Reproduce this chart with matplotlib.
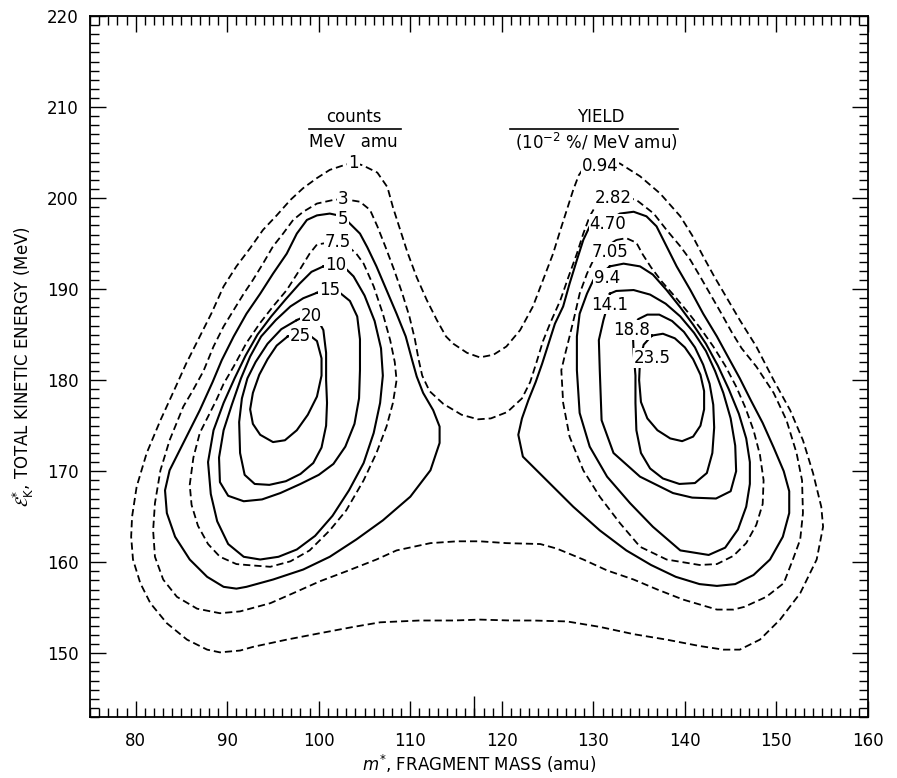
import numpy as np
import matplotlib.pyplot as plt
from matplotlib.ticker import MultipleLocator

# contour traces as (m*, E*) pairs, amu / MeV
# left peak: counts / (MeV amu); right peak: yield (1e-2 % / MeV amu)
c_outer = [(103.8, 203.9), (102.7, 203.6), (101.2, 203.1), (99.8, 202.2), (98.3, 201.1), (96.9, 199.8),
           (95.4, 198.1), (93.9, 196.5), (92.5, 194.5), (91.0, 192.5), (89.6, 190.3), (88.3, 187.4),
           (86.9, 184.6), (85.5, 181.8), (84.2, 178.9), (82.7, 175.6), (81.2, 172.0), (80.1, 168.3),
           (79.6, 165.0), (79.5, 162.8), (79.7, 160.3), (80.5, 157.7), (81.6, 155.5), (83.4, 153.3),
           (85.6, 151.5), (87.8, 150.4), (89.2, 150.1), (91.4, 150.3), (92.8, 150.7), (96.5, 151.5),
           (100.1, 152.2), (103.8, 152.9), (106.7, 153.4), (111.0, 153.6), (114.7, 153.6), (117.6, 153.7),
           (121.0, 153.6), (123.4, 153.6), (127.1, 153.5), (130.7, 152.9), (134.4, 152.1), (138.0, 151.5),
           (141.6, 150.8), (144.2, 150.4), (146.0, 150.4), (148.2, 151.5), (150.4, 153.7), (152.6, 156.6),
           (154.4, 160.3), (155.1, 163.9), (154.9, 166.1), (154.0, 169.8), (152.9, 173.4), (151.5, 176.7),
           (149.7, 180.0), (147.8, 183.7), (146.0, 186.6), (144.6, 189.0), (143.2, 191.4), (142.0, 193.6),
           (140.8, 195.9), (139.5, 198.0), (137.3, 200.5), (135.1, 202.4), (132.9, 203.8), (130.7, 204.1),
           (129.2, 203.7), (128.4, 202.5), (127.8, 200.9), (127.1, 198.7), (126.4, 196.5), (125.6, 193.9),
           (124.5, 191.0), (123.4, 188.1), (122.0, 185.5), (120.5, 183.7), (119.1, 182.8), (117.6, 182.5),
           (116.2, 183.0), (114.7, 184.0), (113.9, 184.8), (112.9, 186.6), (111.8, 188.8), (110.7, 191.3),
           (109.7, 194.0), (108.9, 196.5), (108.1, 199.0), (107.5, 201.2), (106.4, 202.8), (104.8, 203.6),
           (103.8, 203.9)]

c_3 = [(102.7, 199.9), (101.6, 199.8), (99.8, 199.4), (98.3, 198.5), (97.2, 197.6), (96.1, 196.1),
       (95.0, 194.7), (93.9, 192.8), (92.8, 191.0), (91.8, 189.5), (90.7, 187.7), (89.6, 185.9),
       (88.5, 183.7), (87.4, 181.0), (86.2, 178.8), (85.2, 177.1), (83.7, 173.4), (82.7, 170.1),
       (82.1, 166.5), (81.9, 163.5), (82.1, 160.6), (83.0, 158.1), (84.5, 156.2), (86.7, 154.9),
       (89.2, 154.4), (91.4, 154.6), (94.7, 155.5), (97.2, 156.6), (100.1, 157.9), (103.0, 159.0),
       (106.3, 160.3), (108.5, 161.3), (112.2, 162.1), (115.1, 162.3), (117.6, 162.3), (120.5, 162.1),
       (124.2, 162.0), (126.0, 161.5), (128.9, 160.3), (131.5, 159.1), (134.4, 158.1), (137.0, 157.0),
       (139.8, 155.9), (143.5, 154.8), (145.3, 154.8), (146.5, 155.1), (148.9, 156.2), (150.8, 157.7),
       (151.8, 160.3), (152.6, 162.5), (152.9, 165.4), (152.8, 169.0), (152.2, 172.0), (151.1, 175.6),
       (149.7, 178.6), (147.8, 181.5), (146.2, 183.5), (145.1, 185.3), (144.0, 187.3), (142.8, 189.4),
       (141.6, 191.5), (140.6, 193.2), (139.5, 194.7), (138.0, 196.5), (136.6, 198.3), (134.7, 199.8),
       (133.4, 200.1), (132.2, 200.0), (130.4, 199.4), (129.6, 198.0), (128.9, 196.1), (128.2, 193.9),
       (127.3, 191.4), (126.4, 188.8), (125.3, 186.3), (124.5, 184.3), (123.8, 182.0), (123.1, 179.8),
       (122.2, 178.0), (120.6, 176.5), (118.8, 175.8), (117.4, 175.7), (115.6, 176.2), (113.6, 177.4),
       (112.1, 178.8), (111.3, 180.5), (110.9, 182.3), (110.5, 184.5), (109.9, 187.0), (109.1, 189.6),
       (108.2, 192.2), (107.3, 194.6), (106.4, 196.9), (105.6, 198.7), (104.5, 199.6), (102.7, 199.9)]

c_5 = [(102.6, 198.0), (101.2, 198.3), (99.8, 198.1), (98.7, 197.6), (97.6, 196.1), (96.5, 193.9),
       (95.0, 191.7), (93.6, 189.5), (92.1, 187.3), (90.7, 184.8), (89.4, 182.2), (88.4, 179.8),
       (87.0, 176.7), (85.2, 173.1), (83.7, 170.1), (83.2, 167.9), (83.4, 165.4), (84.3, 162.8),
       (85.9, 160.3), (87.8, 158.4), (89.6, 157.3), (91.0, 157.1), (92.1, 157.3), (95.0, 158.1),
       (98.3, 159.2), (101.2, 160.6), (104.1, 162.5), (107.0, 164.6), (110.0, 167.2), (112.2, 170.1),
       (113.2, 173.1), (113.2, 174.9), (112.5, 176.7), (111.4, 178.6), (110.7, 180.4), (110.2, 182.2),
       (109.5, 184.8), (108.5, 187.3), (107.4, 189.9), (106.3, 192.5), (105.3, 194.6), (104.5, 196.1),
       (103.4, 197.2), (102.6, 198.0)]

c_7p5 = [(101.0, 195.1), (99.8, 194.9), (99.0, 193.9), (97.9, 192.1), (96.5, 189.9), (95.0, 188.1),
         (93.6, 186.3), (92.1, 184.1), (90.7, 181.5), (89.6, 179.6), (88.8, 177.8), (87.7, 175.6),
         (87.0, 174.2), (86.3, 171.5), (85.9, 168.5), (86.1, 166.3), (86.8, 164.0), (87.9, 162.0),
         (89.2, 160.6), (91.0, 159.8), (92.1, 159.7), (94.7, 159.5), (96.9, 160.1), (99.0, 161.3),
         (101.2, 163.5), (103.0, 165.7), (104.9, 169.0), (106.3, 172.0), (107.4, 174.9), (108.1, 177.5),
         (108.5, 180.0), (108.3, 182.0), (107.8, 184.4), (107.0, 187.3), (106.0, 190.3), (104.9, 192.8),
         (104.1, 193.9), (103.3, 194.6), (101.0, 195.1)]

c_10 = [(100.5, 192.5), (99.2, 191.9), (97.9, 190.6), (96.4, 188.9), (94.8, 187.0), (93.3, 185.0),
        (92.0, 182.7), (90.8, 180.2), (89.6, 177.5), (88.5, 174.5), (87.9, 171.0), (88.2, 167.5),
        (88.9, 164.5), (90.1, 162.0), (91.8, 160.6), (93.6, 160.3), (95.6, 160.6), (97.6, 161.4),
        (99.6, 162.9), (101.5, 165.1), (103.3, 167.9), (104.9, 170.9), (106.0, 174.2), (106.7, 177.5),
        (107.0, 180.5), (106.8, 183.5), (106.1, 186.5), (105.0, 189.3), (103.8, 191.4), (102.9, 192.3),
        (101.8, 192.7), (100.5, 192.5)]

c_15 = [(99.8, 189.6), (98.3, 189.0), (96.9, 188.1), (95.3, 186.6), (93.7, 184.8), (92.5, 182.6),
        (91.5, 180.2), (90.5, 177.3), (89.6, 174.5), (89.1, 171.5), (89.2, 168.8), (90.1, 167.3),
        (91.8, 166.7), (93.8, 166.9), (95.8, 167.6), (98.0, 168.6), (100.0, 169.6), (101.6, 170.8),
        (102.9, 172.7), (103.9, 175.2), (104.4, 178.0), (104.5, 181.1), (104.5, 184.5), (104.2, 187.0),
        (103.4, 188.7), (102.3, 189.6), (101.2, 189.9), (99.8, 189.6)]

c_20 = [(97.6, 186.6), (95.9, 185.6), (94.4, 184.0), (93.1, 182.0), (92.2, 180.2), (91.6, 178.0),
        (91.3, 175.4), (91.4, 172.0), (91.9, 169.6), (93.0, 168.6), (94.6, 168.5), (96.4, 168.9),
        (98.0, 169.7), (99.4, 170.9), (100.3, 172.6), (100.8, 175.0), (100.9, 177.5), (100.8, 180.0),
        (100.8, 183.0), (100.5, 185.5), (99.8, 186.8), (98.7, 187.1), (97.6, 186.6)]

c_25 = [(96.6, 184.8), (95.4, 183.8), (94.4, 182.3), (93.5, 180.6), (92.8, 178.6), (92.5, 176.8),
        (92.8, 175.2), (93.6, 174.0), (95.0, 173.2), (96.3, 173.4), (97.6, 174.5), (98.8, 176.2),
        (99.8, 178.2), (100.3, 180.5), (100.3, 182.4), (99.8, 184.3), (98.9, 185.0), (97.8, 185.1),
        (96.6, 184.8)]

y_4p70 = [(131.6, 197.5), (132.9, 198.3), (134.4, 198.5), (135.8, 198.0), (136.9, 196.9), (138.0, 194.7),
          (139.1, 192.5), (140.6, 189.9), (142.0, 187.3), (143.5, 184.8), (144.8, 182.4), (146.0, 180.2),
          (147.2, 177.8), (148.5, 175.3), (149.7, 172.6), (150.8, 170.0), (151.4, 167.8), (151.4, 165.4),
          (150.7, 162.8), (149.3, 160.3), (147.5, 158.6), (145.5, 157.6), (143.5, 157.4), (141.6, 157.6),
          (139.0, 158.4), (136.3, 159.7), (133.6, 161.3), (130.7, 163.5), (127.8, 166.1), (124.9, 169.0),
          (122.3, 171.6), (121.8, 174.0), (122.2, 175.8), (122.9, 177.8), (123.7, 179.8), (124.4, 181.8),
          (125.1, 184.0), (125.8, 186.2), (126.7, 188.1), (127.4, 190.6), (128.2, 193.2), (128.9, 195.4),
          (129.6, 196.9), (130.5, 197.3), (131.6, 197.5)]

y_7p05 = [(132.5, 195.4), (133.6, 195.6), (134.7, 195.1), (135.4, 193.8), (136.3, 192.4), (137.5, 190.8),
          (138.9, 189.2), (140.3, 187.5), (141.7, 185.7), (143.1, 183.7), (144.4, 181.6), (145.6, 179.3),
          (146.6, 177.0), (147.5, 174.5), (148.2, 171.8), (148.6, 169.0), (148.5, 166.4), (147.8, 164.1),
          (146.7, 162.1), (145.3, 160.7), (143.5, 159.8), (141.6, 159.7), (138.0, 160.3), (135.1, 161.7),
          (132.9, 164.3), (130.7, 167.2), (128.9, 170.1), (127.4, 173.8), (126.7, 177.5), (126.5, 181.1),
          (126.9, 182.8), (127.4, 184.8), (128.0, 187.3), (128.5, 189.5), (129.3, 191.7), (130.0, 193.2),
          (131.0, 194.4), (132.5, 195.4)]

y_9p4 = [(131.8, 192.5), (133.3, 192.8), (135.1, 192.5), (136.5, 191.6), (138.0, 189.9), (139.5, 188.0),
         (140.9, 186.1), (142.3, 184.0), (143.6, 181.6), (144.8, 179.0), (145.9, 176.3), (146.7, 173.6),
         (147.1, 171.0), (147.1, 168.6), (146.7, 166.1), (145.8, 163.6), (144.4, 161.6), (142.6, 160.8),
         (139.5, 161.3), (136.5, 163.9), (134.0, 166.5), (131.5, 169.4), (129.6, 172.7), (128.5, 176.4),
         (128.2, 181.1), (128.2, 184.8), (128.5, 187.3), (129.3, 189.5), (130.0, 191.0), (131.8, 192.5)]

y_14p1 = [(131.8, 189.5), (132.5, 189.8), (134.4, 189.9), (136.2, 189.4), (137.9, 188.4), (139.5, 187.0),
          (141.0, 185.2), (142.3, 183.2), (143.3, 181.0), (144.2, 178.6), (145.0, 175.8), (145.5, 172.8),
          (145.6, 170.0), (145.0, 167.8), (143.4, 167.0), (140.8, 167.1), (138.7, 167.6), (135.1, 169.4),
          (132.2, 172.0), (130.9, 175.6), (130.7, 181.1), (130.6, 184.4), (131.1, 186.6), (131.5, 188.0),
          (131.8, 189.5)]

y_18p8 = [(134.3, 185.6), (134.9, 186.7), (135.9, 187.2), (137.2, 187.2), (138.6, 186.5), (139.9, 185.3),
          (141.1, 183.6), (142.0, 181.7), (142.7, 179.6), (143.1, 177.3), (143.2, 174.8), (143.0, 172.0),
          (142.4, 169.8), (141.1, 168.7), (139.4, 168.6), (137.6, 169.2), (136.2, 170.3), (135.2, 172.0),
          (134.7, 174.5), (134.6, 177.5), (134.6, 180.5), (134.4, 183.0), (134.3, 185.6)]

y_23p5 = [(136.4, 184.9), (135.5, 183.9), (135.1, 182.3), (135.0, 180.0), (135.2, 177.6), (135.9, 175.8),
          (137.0, 174.5), (138.4, 173.6), (139.7, 173.3), (140.9, 173.8), (141.7, 175.0), (142.1, 176.8),
          (142.1, 178.8), (141.7, 180.6), (140.9, 182.3), (140.0, 183.6), (138.9, 184.6), (137.6, 185.1),
          (136.4, 184.9)]

# (trace, dashed?) ; the two outer curves run round both peaks
contours = [(c_outer, True), (c_3, True), (c_5, False), (c_7p5, True), (c_10, False), (c_15, False),
            (c_20, False), (c_25, False), (y_4p70, False), (y_7p05, True), (y_9p4, False),
            (y_14p1, False), (y_18p8, False), (y_23p5, False)]

count_labels = ["1", "3", "5", "7.5", "10", "15", "20", "25"]
count_label_m = [103.8, 102.7, 102.6, 102.1, 101.8, 101.2, 99.2, 98.0]
count_label_e = [203.9, 199.9, 197.7, 195.2, 192.7, 189.9, 187.0, 184.9]

yield_labels = ["0.94", "2.82", "4.70", "7.05", "9.4", "14.1", "18.8", "23.5"]
yield_label_m = [130.7, 132.2, 131.6, 131.8, 131.5, 131.8, 134.2, 136.4]
yield_label_e = [203.5, 200.0, 197.2, 194.1, 191.2, 188.3, 185.5, 182.4]

plt.rcParams['font.family'] = 'DejaVu Sans'
plt.rcParams['mathtext.fontset'] = 'dejavusans'

fig = plt.figure(figsize=(8.97, 7.78), dpi=100)
ax = fig.add_axes([0.1003, 0.0784, 0.8673, 0.9010])

for trace, dashed in contours:
    pts = np.array(trace)
    if dashed:
        ax.plot(pts[:, 0], pts[:, 1], color='black', lw=1.3, ls=(0, (4, 2.2)))
    else:
        ax.plot(pts[:, 0], pts[:, 1], color='black', lw=1.5)

box = dict(facecolor='white', edgecolor='none', pad=0.6)
for s, m, e in zip(count_labels, count_label_m, count_label_e):
    ax.text(m, e, s, ha='center', va='center', fontsize=12, bbox=box)
for s, m, e in zip(yield_labels, yield_label_m, yield_label_e):
    ax.text(m, e, s, ha='center', va='center', fontsize=12, bbox=box)

# column headings
ax.text(103.8, 208.9, "counts", ha='center', va='center', fontsize=12)
ax.plot([98.9, 109.0], [207.6, 207.6], color='black', lw=1.2)
ax.text(103.8, 206.2, "MeV   amu", ha='center', va='center', fontsize=12)
ax.text(130.8, 208.9, "YIELD", ha='center', va='center', fontsize=12)
ax.plot([120.9, 139.3], [207.6, 207.6], color='black', lw=1.2)
ax.text(130.3, 206.2, r"(10$^{-2}$ %/ MeV amu)", ha='center', va='center', fontsize=12)

ax.set_xlim(75, 160)
ax.set_ylim(143, 220)
ax.xaxis.set_major_locator(MultipleLocator(10))
ax.xaxis.set_minor_locator(MultipleLocator(1))
ax.yaxis.set_major_locator(MultipleLocator(10))
ax.yaxis.set_minor_locator(MultipleLocator(1))
ax.tick_params(which='both', direction='in', top=True, right=True, width=1.0, labelsize=12)
ax.tick_params(which='major', length=11.5)
ax.tick_params(which='minor', length=6.5)
ax.tick_params(axis='x', pad=11)
ax.tick_params(axis='y', pad=8)
for sp in ax.spines.values():
    sp.set_linewidth(1.3)

# longer mark at the symmetric-division mass
sym = ax.secondary_xaxis('bottom')
sym.set_xticks([117])
sym.tick_params(direction='in', length=15, width=1.0, labelbottom=False)
sym.spines['bottom'].set_visible(False)

ax.set_xlabel(r"$m^{*}$, FRAGMENT MASS (amu)", fontsize=12, labelpad=2)
ax.set_ylabel(r"$\mathcal{E}_{\mathrm{K}}^{*}$, TOTAL KINETIC ENERGY (MeV)", fontsize=12, labelpad=8)

fig.savefig("out.png", dpi=100)
